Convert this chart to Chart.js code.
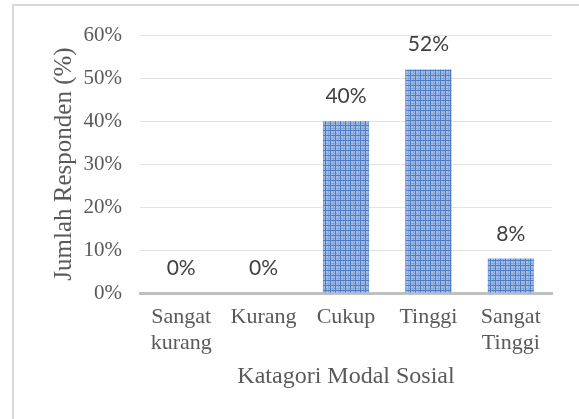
<!DOCTYPE html>
<html>
<head>
<meta charset="utf-8">
<script src="https://cdn.jsdelivr.net/npm/chart.js@4/dist/chart.umd.min.js"></script>
<style>
    body { margin: 0; background: #fff; }
    #wrap { position: relative; width: 579px; height: 419px; overflow: hidden; }
    #frame { position: absolute; left: 12px; top: 4px; width: 600px; height: 450px; border: 2px solid #d9d9d9; box-sizing: border-box; }
    #chart { position: absolute; left: 0; top: 0; }
</style>
</head>
<body>
<div id="wrap">
    <div id="frame"></div>
    <canvas id="chart" width="579" height="419"></canvas>
</div>
<script>
// data
const categories = [['Sangat', 'kurang'], 'Kurang', 'Cukup', 'Tinggi', ['Sangat', 'Tinggi']];
const values = [0, 0, 40, 52, 8];
const yTicks = [0, 10, 20, 30, 40, 50, 60];

// checkered fill like the original bars
function makePattern() {
    const c = document.createElement('canvas');
    c.width = 5;
    c.height = 5;
    const g = c.getContext('2d');
    g.fillStyle = '#a5c0e8';
    g.fillRect(0, 0, 5, 5);
    g.fillStyle = '#85a7dc';
    g.fillRect(3, 0, 1, 5);
    g.fillRect(0, 3, 5, 1);
    g.fillStyle = '#4d7bc6';
    g.fillRect(0, 0, 1, 5);
    g.fillRect(0, 0, 5, 1);
    return g.createPattern(c, 'repeat');
}

const valueLabels = {
    id: 'valueLabels',
    afterDatasetsDraw(chart) {
        const ctx = chart.ctx;
        const meta = chart.getDatasetMeta(0);
        ctx.save();
        ctx.font = '21px Lato';
        ctx.fillStyle = '#404040';
        ctx.textAlign = 'center';
        ctx.textBaseline = 'alphabetic';
        meta.data.forEach((bar, i) => {
            ctx.fillText(values[i] + '%', bar.x, bar.y - 18);
        });
        ctx.restore();
    }
};

const ctx = document.getElementById('chart').getContext('2d');
new Chart(ctx, {
    type: 'bar',
    data: {
        labels: categories,
        datasets: [{
            data: values,
            backgroundColor: makePattern(),
            borderWidth: 0,
            categoryPercentage: 1,
            barPercentage: 0.56
        }]
    },
    options: {
        responsive: false,
        animation: false,
        layout: { padding: { left: 49, right: 27, top: 35, bottom: 28 } },
        plugins: {
            legend: { display: false },
            tooltip: { enabled: false }
        },
        scales: {
            x: {
                grid: { display: false, drawTicks: false },
                border: { display: true, color: '#bfbfbf', width: 3 },
                ticks: {
                    color: '#595959',
                    font: { family: 'Liberation Serif', size: 22 },
                    padding: 11,
                    maxRotation: 0,
                    autoSkip: false
                },
                title: {
                    display: true,
                    text: 'Katagori Modal Sosial',
                    color: '#595959',
                    font: { family: 'Liberation Serif', size: 24 },
                    padding: 0
                },
                afterFit(scale) { scale.height = 98; }
            },
            y: {
                min: yTicks[0],
                max: yTicks[yTicks.length - 1],
                afterBuildTicks(scale) { scale.ticks = yTicks.map(v => ({ value: v })); },
                grid: { color: '#e3e3e3', drawTicks: false },
                border: { display: false },
                ticks: {
                    color: '#595959',
                    font: { family: 'Liberation Serif', size: 21 },
                    padding: 18,
                    callback: v => v + '%'
                },
                title: {
                    display: true,
                    text: 'Jumlah Responden (%)',
                    color: '#595959',
                    font: { family: 'Liberation Serif', size: 25 },
                    padding: 0
                },
                afterFit(scale) { scale.width = 91; }
            }
        }
    },
    plugins: [valueLabels]
});
</script>
</body>
</html>
